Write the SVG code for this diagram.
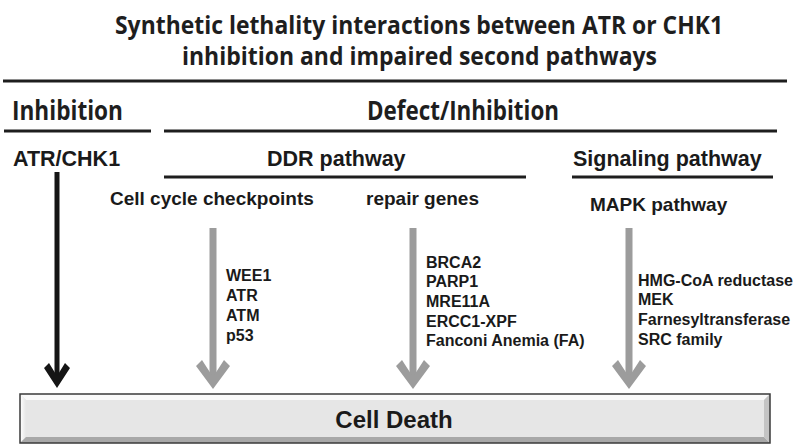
<svg xmlns="http://www.w3.org/2000/svg" width="800" height="446" viewBox="0 0 800 446">
<style>
.title{font-family:"Open Sans","Liberation Sans",sans-serif;font-weight:bold;font-size:25px;fill:#1e1e1e}
.hd{font-family:"Open Sans","Liberation Sans",sans-serif;font-weight:bold;font-size:26px;fill:#1e1e1e}
.h2{font-family:"Liberation Sans",Arial,sans-serif;font-weight:bold;font-size:21.5px;fill:#1a1a1a}
.h3{font-family:"Liberation Sans",Arial,sans-serif;font-weight:bold;font-size:19px;fill:#1a1a1a}
.li{font-family:"Liberation Sans",Arial,sans-serif;font-weight:bold;font-size:16px;fill:#1a1a1a}
.cd{font-family:"Liberation Sans",Arial,sans-serif;font-weight:bold;font-size:24px;fill:#1a1a1a}
.rule{stroke:#1e1e1e;stroke-width:3;fill:none}
.blk{stroke:#151515;stroke-width:5;fill:none}
.blkh{fill:#151515}
.gry{stroke:#9c9c9c;stroke-width:7;fill:none}
.gryh{fill:#9c9c9c}
</style>
<defs>
<linearGradient id="lft" x1="0" y1="0" x2="1" y2="0"><stop offset="0" stop-color="#ffffff"/><stop offset="1" stop-color="#e6e6e6"/></linearGradient>
</defs>
<g id="title">
<text class="title" x="115" y="34" textLength="608" lengthAdjust="spacingAndGlyphs">Synthetic lethality interactions between ATR or CHK1</text>
<text class="title" x="182" y="65" textLength="475" lengthAdjust="spacingAndGlyphs">inhibition and impaired second pathways</text>
</g>
<g id="rules">
<line class="rule" x1="3" y1="81" x2="787" y2="81"/>
<line class="rule" x1="4" y1="131" x2="151" y2="131"/>
<line class="rule" x1="164" y1="131" x2="777" y2="131"/>
<line class="rule" x1="164" y1="177" x2="526" y2="177"/>
<line class="rule" x1="572" y1="177" x2="773" y2="177"/>
</g>
<g id="inhibition">
<text class="hd" x="12" y="120" textLength="111" lengthAdjust="spacingAndGlyphs">Inhibition</text>
<text class="h2" x="13" y="166">ATR/CHK1</text>
</g>
<g id="defect">
<text class="hd" x="367" y="120" textLength="192" lengthAdjust="spacingAndGlyphs">Defect/Inhibition</text>
</g>
<g id="ddr">
<text class="h2" x="267" y="166">DDR pathway</text>
</g>
<g id="signaling">
<text class="h2" x="573" y="166">Signaling pathway</text>
</g>
<g id="checkpoints">
<text class="h3" x="110" y="205">Cell cycle checkpoints</text>
<text class="li" x="226" y="281">WEE1</text>
<text class="li" x="226" y="301">ATR</text>
<text class="li" x="226" y="321">ATM</text>
<text class="li" x="226" y="341">p53</text>
</g>
<g id="repair">
<text class="h3" x="366" y="205">repair genes</text>
<text class="li" x="426" y="268">BRCA2</text>
<text class="li" x="426" y="287">PARP1</text>
<text class="li" x="426" y="307">MRE11A</text>
<text class="li" x="426" y="327">ERCC1-XPF</text>
<text class="li" x="426" y="346">Fanconi Anemia (FA)</text>
</g>
<g id="mapk">
<text class="h3" x="590" y="211">MAPK pathway</text>
<text class="li" x="638" y="286">HMG-CoA reductase</text>
<text class="li" x="638" y="305">MEK</text>
<text class="li" x="638" y="325">Farnesyltransferase</text>
<text class="li" x="638" y="345">SRC family</text>
</g>
<g id="connectors">
<line class="blk" x1="57" y1="172" x2="57" y2="378"/>
<polygon class="blkh" points="57,388 44,368 49,363 57,376 65,363 70,368"/>
<line class="gry" x1="213" y1="228" x2="213" y2="379"/>
<polygon class="gryh" points="213,389 196,366 202,360 213,377 224,360 230,366"/>
<line class="gry" x1="413" y1="228" x2="413" y2="379"/>
<polygon class="gryh" points="413,389 396,366 402,360 413,377 424,360 430,366"/>
<line class="gry" x1="629" y1="228" x2="629" y2="379"/>
<polygon class="gryh" points="629,389 612,366 618,360 629,377 640,360 646,366"/>
</g>
<g id="cell-death">
<rect x="20" y="394" width="750" height="49" fill="#e6e6e6"/>
<polygon points="20,394 770,394 764,400 26,400" fill="#fafafa"/>
<polygon points="20,394 26,400 26,437 20,443" fill="url(#lft)"/>
<polygon points="20,443 26,437 764,437 770,443" fill="#a8a8a8"/>
<polygon points="770,394 770,443 764,437 764,400" fill="#c4c4c4"/>
<rect x="20" y="394" width="750" height="49" fill="none" stroke="#3a3a3a" stroke-width="1.5"/>
<text class="cd" x="394" y="428" text-anchor="middle">Cell Death</text>
</g>
</svg>
